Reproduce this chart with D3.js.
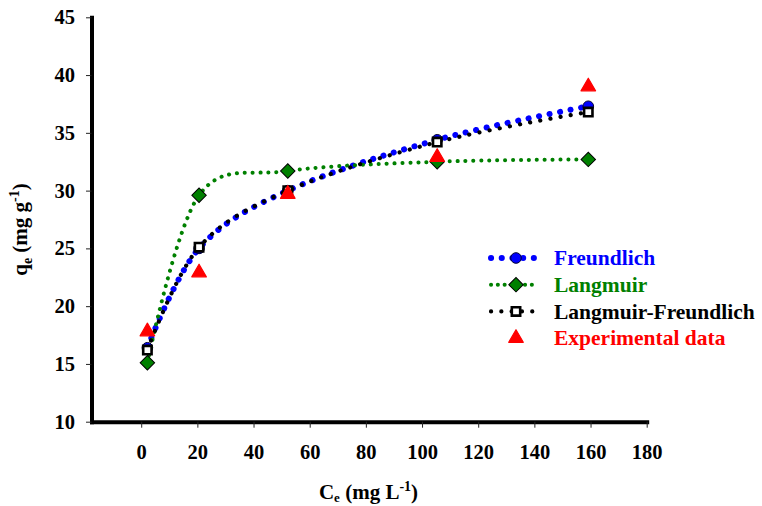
<!DOCTYPE html>
<meta charset="utf-8">
<title>Adsorption isotherm fits</title>
<script src="https://d3js.org/d3.v7.min.js"></script>
<style>
  body { margin: 0; background: #fff; }
</style>
<body>
  <svg width="762" height="506" style="font-family: 'Liberation Serif', 'Times New Roman', Times, 'DejaVu Serif', serif;"></svg>
  <script>

    // Equilibrium concentrations (mg/L) and q_e values (mg/g)
    var ceValues = [2.2, 20.6, 52.2, 105.4, 159.2];
    var freundlich = [16.4, 25.0, 30.0, 34.4, 37.3];
    var langmuir = [15.1, 29.6, 31.7, 32.5, 32.7];
    var langmuirFreundlich = [16.2, 25.1, 30.0, 34.2, 36.8];
    var experimental = [17.8, 22.9, 29.7, 32.9, 39.0];

    var xTicks = [0, 20, 40, 60, 80, 100, 120, 140, 160, 180];
    var yTicks = [10, 15, 20, 25, 30, 35, 40, 45];

    var serifFont = "'Liberation Serif', 'Times New Roman', Times, 'DejaVu Serif', serif";

    var svg = d3.select("svg");

    var x = d3.scaleLinear()
        .domain([-17.7, 180])
        .range([91.5, 646.7]);

    var y = d3.scaleLinear()
        .domain([10, 45])
        .range([421.7, 17.3]);

    // Series definitions (style only, data comes from arrays above)
    var series = [
      {name: "Freundlich", values: freundlich, color: "#0000ff", width: 6, dash: "0.1 10.6", marker: "circle"},
      {name: "Langmuir", values: langmuir, color: "#008000", width: 4, dash: "0.1 7.8", marker: "diamond"},
      {name: "Langmuir-Freundlich", values: langmuirFreundlich, color: "#000000", width: 4.2, dash: "0.1 10.2", marker: "square"},
      {name: "Experimental data", values: experimental, color: "#ff0000", width: 0, dash: null, marker: "triangle"}
    ];

    var line = d3.line()
        .x(function(d) { return x(d[0]); })
        .y(function(d) { return y(d[1]); })
        .curve(d3.curveCardinal.tension(0));

    function drawMarker(sel, kind) {
      if (kind === "circle") {
        sel.append("circle").attr("r", 5.3)
            .attr("fill", "#0000ff").attr("stroke", "#000033").attr("stroke-width", 1);
      } else if (kind === "diamond") {
        sel.append("path").attr("d", d3.symbol(d3.symbolSquare, 104)())
            .attr("transform", "rotate(45)")
            .attr("fill", "#008000").attr("stroke", "#000000").attr("stroke-width", 1);
      } else if (kind === "square") {
        sel.append("path").attr("d", d3.symbol(d3.symbolSquare, 70)())
            .attr("fill", "#ffffff").attr("stroke", "#000000").attr("stroke-width", 2.6);
      } else if (kind === "triangle") {
        sel.append("path").attr("d", d3.symbol(d3.symbolTriangle, 92)())
            .attr("fill", "#ff0000").attr("stroke", "#ff0000")
            .attr("stroke-width", 1.2).attr("stroke-linejoin", "round");
      }
    }

    // Axes
    var xAxis = d3.axisBottom(x).tickValues(xTicks).tickSize(6).tickSizeOuter(0);
    var yAxis = d3.axisLeft(y).tickValues(yTicks).tickSize(5.5).tickSizeOuter(0);

    var gx = svg.append("g")
        .attr("transform", "translate(0," + y(10) + ")")
        .call(xAxis)
        .attr("font-family", serifFont);
    gx.selectAll(".tick text")
        .attr("y", 37.6).attr("dy", 0)
        .style("font-family", serifFont)
        .style("font-weight", "bold")
        .style("font-size", "20.5px").attr("fill", "#000");

    var gy = svg.append("g")
        .attr("transform", "translate(" + x(-17.7) + ",0)")
        .call(yAxis)
        .attr("font-family", serifFont);
    gy.selectAll(".tick text")
        .attr("x", -16.5)
        .style("font-family", serifFont)
        .style("font-weight", "bold")
        .style("font-size", "20.5px").attr("fill", "#000");

    svg.selectAll(".domain")
        .attr("stroke", "#000").attr("stroke-width", 4).attr("stroke-linecap", "square");
    svg.selectAll(".tick line").attr("stroke", "#222").attr("stroke-width", 1);

    // Curves and markers, in Excel series order
    var plot = svg.append("g");
    series.forEach(function(s) {
      var pts = ceValues.map(function(c, i) { return [c, s.values[i]]; });
      if (s.width > 0) {
        plot.append("path")
            .datum(pts)
            .attr("d", line)
            .attr("fill", "none")
            .attr("stroke", s.color)
            .attr("stroke-width", s.width)
            .attr("stroke-linecap", "round")
            .attr("stroke-dasharray", s.dash);
      }
      pts.forEach(function(p) {
        var m = plot.append("g").attr("transform", "translate(" + x(p[0]) + "," + y(p[1]) + ")");
        drawMarker(m, s.marker);
      });
    });

    // Legend
    var legend = svg.append("g").attr("transform", "translate(489,258)");
    series.forEach(function(s, i) {
      var row = legend.append("g").attr("transform", "translate(0," + i * 26.7 + ")");
      if (s.width > 0) {
        row.append("line")
            .attr("x1", 2).attr("x2", 49)
            .attr("stroke", s.color)
            .attr("stroke-width", s.width)
            .attr("stroke-linecap", "round")
            .attr("stroke-dasharray", s.name === "Langmuir" ? "0.1 6.7" : s.dash);
      }
      drawMarker(row.append("g").attr("transform", "translate(27,0)"), s.marker);
      row.append("text")
          .attr("x", 65)
          .attr("dy", "0.34em")
          .style("font-family", serifFont)
          .style("font-weight", "bold")
          .style("font-size", "21.5px")
          .attr("fill", s.color)
          .text(s.name);
    });

    // Axis titles
    var xTitle = svg.append("text")
        .attr("x", 368.5).attr("y", 499)
        .attr("text-anchor", "middle")
        .style("font-family", serifFont)
        .style("font-weight", "bold")
        .style("font-size", "21px");
    xTitle.append("tspan").text("C");
    xTitle.append("tspan").attr("dy", 3).style("font-size", "13px").text("e");
    xTitle.append("tspan").attr("dy", -3).text(" (mg L");
    xTitle.append("tspan").attr("dy", -8).style("font-size", "14px").text("-1");
    xTitle.append("tspan").attr("dy", 8).text(")");

    var yTitle = svg.append("text")
        .attr("transform", "translate(27,229.5) rotate(-90)")
        .attr("text-anchor", "middle")
        .style("font-family", serifFont)
        .style("font-weight", "bold")
        .style("font-size", "21px");
    yTitle.append("tspan").text("q");
    yTitle.append("tspan").attr("dy", 5).style("font-size", "14px").text("e");
    yTitle.append("tspan").attr("dy", -5).text(" (mg g");
    yTitle.append("tspan").attr("dy", -8).style("font-size", "14px").text("-1");
    yTitle.append("tspan").attr("dy", 8).text(")");

  </script>
</body>
